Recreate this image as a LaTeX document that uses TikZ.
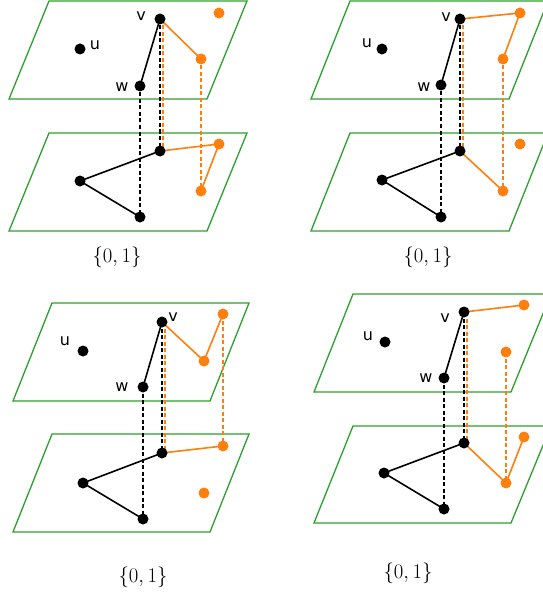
\documentclass[tikz,border=0pt]{standalone}
\usepackage{fontspec}
\usetikzlibrary{backgrounds}
\newfontfamily\labfont{DejaVu Sans}
\definecolor{pgreen}{HTML}{2CA02C}
\definecolor{porange}{HTML}{FF7F0E}
\tikzset{
  plane/.style={draw=pgreen,line width=1.3pt},
  bdot/.style={circle,fill=black,inner sep=0pt,minimum size=11pt},
  odot/.style={circle,fill=porange,inner sep=0pt,minimum size=11pt},
  bedge/.style={black,line width=1.6pt},
  oedge/.style={porange,line width=1.6pt},
  bdash/.style={black,line width=1.2pt,dash pattern=on 4pt off 2.5pt},
  odash/.style={porange,line width=1.2pt,dash pattern=on 4pt off 2.5pt},
  lab/.style={font=\labfont\fontsize{16}{18}\selectfont,inner sep=0pt},
  captext/.style={font=\fontsize{21}{25}\selectfont,inner sep=0pt}
}
\begin{document}
\begin{tikzpicture}[x=1pt,y=-1pt]
\useasboundingbox (0,0) rectangle (542,599);
\clip (0,0) rectangle (542,599);
% ---------- Panel A ----------
\node[bdot] (Au) at (80,49) {};
\node[bdot] (Av) at (160,19) {};
\node[bdot] (Aw) at (140,86) {};
\node[odot] (Ao1) at (219,13) {};
\node[odot] (Ao2) at (201,59) {};
\node[bdot] (Abv) at (160,151) {};
\node[bdot] (Abl) at (80,181) {};
\node[bdot] (Abw) at (140,217) {};
\node[odot] (Abo1) at (219,144) {};
\node[odot] (Abo2) at (201,191) {};
\begin{scope}[on background layer]
\draw[plane] (49,1) -- (247,1) -- (207,99) -- (9,99) -- cycle;
\draw[plane] (49,133) -- (247,133) -- (207,231) -- (9,231) -- cycle;
\draw[bdash] (Aw.center) -- (Abw.center);
\draw[bdash] (Av.center) -- (Abv.center);
\draw[odash] ([xshift=3pt]Av.center) -- ([xshift=3pt]Abv.center);
\draw[odash] (Ao2.center) -- (Abo2.center);
\draw[bedge] (Av.center) -- (Aw.center);
\draw[oedge] (Av.center) -- (Ao2.center);
\draw[bedge] (Abv.center) -- (Abl.center) -- (Abw.center);
\draw[oedge] (Abv.center) -- (Abo1.center) -- (Abo2.center);
\end{scope}
\node[lab] (Alv) at (141,16) {v};
\node[lab] (Alu) at (95,45) {u};
\node[lab] (Alw) at (122,87) {w};
\node[captext] (Acap) at (117,257) {$\{0,1\}$};
% ---------- Panel B ----------
\node[bdot] (Bu) at (382,49) {};
\node[bdot] (Bv) at (460,19) {};
\node[bdot] (Bw) at (441,85) {};
\node[odot] (Bo1) at (520,13) {};
\node[odot] (Bo2) at (503,59) {};
\node[bdot] (Bbv) at (460,151) {};
\node[bdot] (Bbl) at (382,180) {};
\node[bdot] (Bbw) at (441,217) {};
\node[odot] (Bbo1) at (520,144) {};
\node[odot] (Bbo2) at (503,191) {};
\begin{scope}[on background layer]
\draw[plane] (350,1) -- (548,1) -- (509,99) -- (311,99) -- cycle;
\draw[plane] (350,133) -- (548,133) -- (509,231) -- (311,231) -- cycle;
\draw[bdash] (Bw.center) -- (Bbw.center);
\draw[bdash] (Bv.center) -- (Bbv.center);
\draw[odash] ([xshift=3pt]Bv.center) -- ([xshift=3pt]Bbv.center);
\draw[odash] (Bo2.center) -- (Bbo2.center);
\draw[bedge] (Bv.center) -- (Bw.center);
\draw[oedge] (Bv.center) -- (Bo1.center) -- (Bo2.center);
\draw[bedge] (Bbv.center) -- (Bbl.center) -- (Bbw.center);
\draw[oedge] (Bbv.center) -- (Bbo2.center);
\end{scope}
\node[lab] (Blv) at (446,17) {v};
\node[lab] (Blu) at (367,43) {u};
\node[lab] (Blw) at (424,87) {w};
\node[captext] (Bcap) at (428,257) {$\{0,1\}$};
% ---------- Panel C ----------
\node[bdot] (Cu) at (83,351) {};
\node[bdot] (Cv) at (162,322) {};
\node[bdot] (Cw) at (143,387) {};
\node[odot] (Co1) at (223,314) {};
\node[odot] (Co2) at (204,361) {};
\node[bdot] (Cbv) at (162,453) {};
\node[bdot] (Cbl) at (83,483) {};
\node[bdot] (Cbw) at (143,519) {};
\node[odot] (Cbo1) at (223,446) {};
\node[odot] (Cbo2) at (204,493) {};
\begin{scope}[on background layer]
\draw[plane] (52,303) -- (249,303) -- (210,401) -- (13,401) -- cycle;
\draw[plane] (52,434) -- (249,434) -- (210,532) -- (13,532) -- cycle;
\draw[bdash] (Cw.center) -- (Cbw.center);
\draw[bdash] (Cv.center) -- (Cbv.center);
\draw[odash] ([xshift=3pt]Cv.center) -- ([xshift=3pt]Cbv.center);
\draw[odash] (Co1.center) -- (Cbo1.center);
\draw[bedge] (Cv.center) -- (Cw.center);
\draw[oedge] (Cv.center) -- (Co2.center) -- (Co1.center);
\draw[bedge] (Cbv.center) -- (Cbl.center) -- (Cbw.center);
\draw[oedge] (Cbv.center) -- (Cbo1.center);
\end{scope}
\node[lab] (Clv) at (173,317) {v};
\node[lab] (Clu) at (65,341) {u};
\node[lab] (Clw) at (122,387) {w};
\node[captext] (Ccap) at (143,577) {$\{0,1\}$};
% ---------- Panel D ----------
\node[bdot] (Du) at (385,342) {};
\node[bdot] (Dv) at (464,312) {};
\node[bdot] (Dw) at (444,378) {};
\node[odot] (Do1) at (524,305) {};
\node[odot] (Do2) at (506,352) {};
\node[bdot] (Dbv) at (464,443) {};
\node[bdot] (Dbl) at (384,473) {};
\node[bdot] (Dbw) at (444,509) {};
\node[odot] (Dbo1) at (524,437) {};
\node[odot] (Dbo2) at (506,483) {};
\begin{scope}[on background layer]
\draw[plane] (353,294) -- (551,294) -- (511,392) -- (314,392) -- cycle;
\draw[plane] (353,426) -- (551,426) -- (511,523) -- (314,523) -- cycle;
\draw[bdash] (Dw.center) -- (Dbw.center);
\draw[bdash] (Dv.center) -- (Dbv.center);
\draw[odash] ([xshift=3pt]Dv.center) -- ([xshift=3pt]Dbv.center);
\draw[odash] (Do2.center) -- (Dbo2.center);
\draw[bedge] (Dv.center) -- (Dw.center);
\draw[oedge] (Dv.center) -- (Do1.center);
\draw[bedge] (Dbv.center) -- (Dbl.center) -- (Dbw.center);
\draw[oedge] (Dbv.center) -- (Dbo2.center) -- (Dbo1.center);
\end{scope}
\node[lab] (Dlv) at (445,318) {v};
\node[lab] (Dlu) at (368,336) {u};
\node[lab] (Dlw) at (426,378) {w};
\node[captext] (Dcap) at (408,573) {$\{0,1\}$};
\end{tikzpicture}
\end{document}
